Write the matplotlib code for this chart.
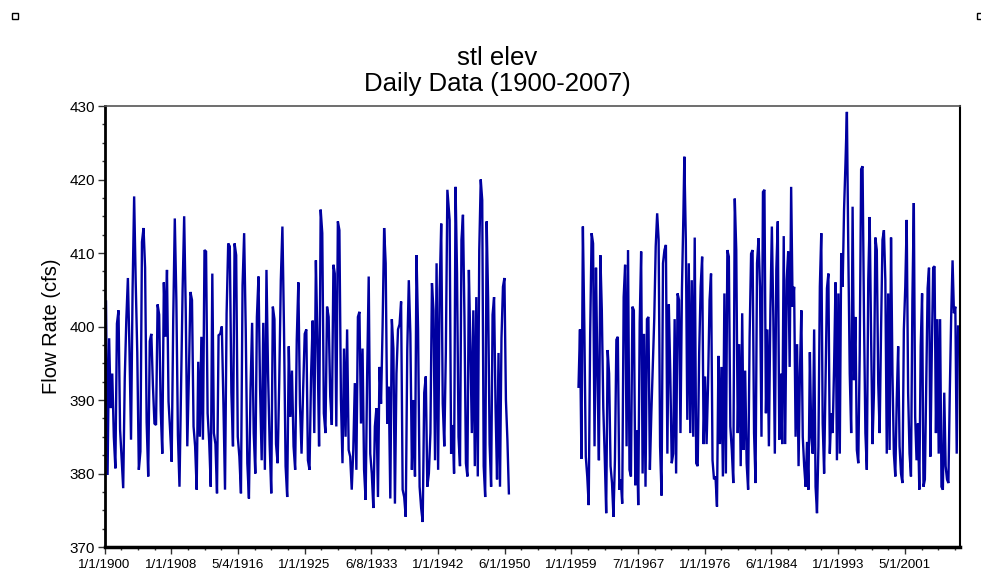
import numpy as np
import matplotlib
matplotlib.use('Agg')
import matplotlib.pyplot as plt
from matplotlib.patches import Rectangle

plt.rcParams['font.family'] = ['Liberation Sans', 'DejaVu Sans']

# readings, one list per stretch of years
# (values in each list are spread evenly between the stretch's start and end year)
stage_1900 = [403.4, 379.8, 398.4, 388.9, 393.6, 385.0, 380.7, 400.4, 402.2, 386.0, 382.0, 378.0,
              393.0, 401.0, 406.6, 397.0, 384.6, 405.0, 417.7, 406.0, 396.4, 380.5, 383.0, 411.5,
              413.4, 408.0, 387.0, 379.6, 398.0, 399.0, 392.0, 386.8, 386.6, 403.0, 401.6, 388.6,
              382.7, 406.0, 398.6, 407.7, 389.8, 385.9, 381.6, 401.0, 414.7, 403.6, 385.2, 378.2,
              391.4, 405.0, 415.0, 402.2, 383.7, 393.2, 404.7, 403.6, 386.4, 383.7, 377.8, 395.2,
              385.0, 398.6, 384.6, 410.4, 410.2, 388.2, 384.3, 378.2, 407.2, 385.5, 384.0, 377.3,
              398.8]
stage_1914 = [399.0, 400.0, 389.5, 377.8, 401.8, 411.3, 410.9, 391.0, 383.7, 411.3, 409.7, 385.0,
              382.3, 377.3, 405.6, 412.7, 399.6, 381.4, 376.6, 391.4, 400.5, 385.5, 380.0, 401.3,
              406.8, 391.4, 381.8, 400.5, 380.5, 407.7, 393.6, 384.0, 377.3, 402.7, 401.0, 384.0,
              381.4, 392.3, 406.3, 413.6, 399.6, 381.0, 376.8, 397.3, 387.7, 394.0, 383.7, 380.5,
              398.2, 406.0, 389.5, 382.7, 391.4, 399.0, 399.6, 381.8, 380.5, 393.6, 400.8, 385.5,
              409.0, 397.8, 383.7, 415.9, 412.7, 388.2, 385.5, 402.7, 401.3, 390.5, 386.6, 408.4]
stage_1929 = [407.2, 386.4, 414.3, 413.1, 390.0, 381.4, 397.0, 385.0, 399.6, 383.2, 382.3, 377.8,
              383.2, 392.3, 380.5, 401.3, 402.0, 386.8, 397.0, 380.5, 376.4, 393.6, 406.8, 382.7,
              380.0, 375.3, 386.4, 388.9, 376.8, 394.5, 389.5, 400.0, 413.4, 408.6, 386.8, 391.8,
              376.6, 401.0, 397.0, 375.9, 393.6, 399.6, 400.3, 403.4, 377.8, 376.8, 374.1, 396.8,
              406.3, 399.0, 380.5, 390.0, 379.6, 409.7, 399.6, 378.2, 375.3, 373.4, 391.0, 393.2,
              378.2, 380.0, 385.5, 405.9, 402.2, 381.8, 408.6, 380.5, 405.0, 414.0, 389.5, 383.7,
              396.4, 418.6, 415.9]
stage_1943 = [414.5, 382.7, 386.6, 380.0, 419.0, 407.2, 385.0, 381.0, 411.8, 415.2, 401.3, 381.4,
              379.6, 407.7, 397.3, 385.5, 402.2, 381.0, 404.0, 379.6, 410.4, 420.0, 417.2, 381.0,
              376.8, 414.3, 403.6, 384.0, 378.2, 401.6, 404.0, 389.0, 379.2, 396.4, 378.2, 398.4,
              405.4, 406.6, 390.0, 384.6, 377.3]
stage_1959 = [391.8, 399.6, 382.0, 413.6, 400.0, 382.3, 379.6, 375.7, 399.0, 412.7, 411.3, 383.7,
              408.0, 393.6, 381.8, 409.7, 402.2, 389.0, 382.3, 374.6, 396.8, 393.6, 381.0, 378.7,
              374.1, 381.8, 398.2, 398.6, 377.8, 379.2, 375.9, 404.0, 408.4, 383.7, 410.4, 380.5,
              379.6, 402.7, 402.2, 378.4, 385.9, 375.7, 400.5, 410.2, 380.0, 399.0, 378.2, 401.0,
              401.3, 380.5, 388.2, 394.5, 401.1, 410.9, 415.4, 411.8, 383.7, 377.0, 408.6, 410.4,
              411.1, 382.7, 403.0, 393.6, 381.4, 382.7, 401.0, 380.0, 404.5, 403.6, 385.5, 405.0,
              415.2]
stage_1973 = [423.1, 411.8, 387.3, 408.6, 385.5, 406.3, 385.0, 412.1, 381.4, 381.0, 396.4, 405.4,
              409.5, 384.0, 393.2, 384.0, 392.3, 403.6, 407.2, 381.8, 379.2, 379.6, 375.5, 396.0,
              384.0, 394.5, 379.6, 404.5, 380.0, 410.4, 409.5, 386.4, 383.2, 378.7, 417.4, 410.4,
              385.5, 397.6, 381.0, 401.8, 383.2, 394.0, 381.4, 377.8, 398.6, 409.9, 410.4, 385.5,
              378.7, 408.6, 412.0, 405.4, 385.0, 418.3, 418.6, 388.2, 399.6, 383.7, 402.2, 413.6,
              401.0, 382.7, 407.7, 414.3, 384.6, 393.6, 384.0, 412.3, 384.0, 406.3, 410.2, 394.5,
              419.0, 402.7, 405.4, 385.0, 397.6, 381.0]
stage_1987 = [393.6, 402.2, 385.0, 381.0, 378.2, 384.3, 377.8, 396.5, 385.0, 382.7, 399.6, 378.2,
              374.6, 383.7, 405.4, 412.7, 386.8, 380.0, 392.7, 405.2, 407.2, 382.7, 388.2, 385.5,
              394.5, 406.0, 381.8, 404.5, 382.7, 410.0, 405.4, 415.9, 422.2, 429.2, 410.0, 393.6,
              385.5, 416.3, 392.7, 401.3, 383.2, 381.4, 396.4, 421.4, 421.8, 401.3, 385.5, 380.5,
              406.3, 414.9, 398.6, 384.0, 391.0, 412.1, 410.4, 392.3, 385.5, 399.6, 411.8, 413.1,
              406.3, 382.7, 404.5, 383.2, 412.1, 393.6, 382.7, 379.6, 390.0, 397.3, 383.7, 380.0,
              378.7, 399.6, 405.4, 414.5, 391.0, 382.7, 379.6, 403.6, 416.8]
stage_2002 = [387.7, 381.8, 386.8, 377.8, 397.3, 404.5, 378.2, 379.2, 392.3, 405.2, 408.0, 382.3,
              396.4, 408.0, 408.2, 385.5, 401.0, 382.7, 401.0, 378.2, 377.8, 391.0, 381.0, 379.2,
              378.7, 391.0, 401.3, 409.0, 401.8, 402.7, 382.7, 400.0]

chunks = [
    ((1900.19, 1914.40), stage_1900),
    ((1914.61, 1928.90), stage_1914),
    ((1929.07, 1943.48), stage_1929),
    ((1943.57, 1951.05), stage_1943),
    None,  # no record 1951-1959
    ((1959.84, 1973.08), stage_1959),
    ((1973.20, 1987.62), stage_1973),
    ((1987.79, 2002.17), stage_1987),
    ((2002.34, 2007.76), stage_2002),
]

tick_labels = ['1/1/1900', '1/1/1908', '5/4/1916', '1/1/1925', '6/8/1933', '1/1/1942',
               '6/1/1950', '1/1/1959', '7/1/1967', '1/1/1976', '6/1/1984', '1/1/1993',
               '5/1/2001']

# build one series, NaN where the record is missing
t, y = [], []
for c in chunks:
    if c is None:
        t.append(np.nan)
        y.append(np.nan)
        continue
    (t0, t1), vals = c
    t.extend(np.linspace(t0, t1, len(vals)))
    y.extend(vals)

fig = plt.figure(figsize=(9.81, 5.79), dpi=100)
ax = fig.add_axes([104.5 / 981, 1 - 547 / 579, 855.5 / 981, 441 / 579])

ax.plot(t, y, color='#0000a0', lw=1.7, solid_joinstyle='miter')

ax.set_xlim(1900, 2008.0)
ax.set_ylim(370, 430)

step = 8.42
ax.set_xticks([1900 + i * step for i in range(len(tick_labels))])
ax.set_xticklabels(tick_labels, fontsize=9.6)
ax.set_xticks([1900 + i * step / 4 for i in range(52) if 1900 + i * step / 4 <= 2008.0], minor=True)
ax.set_yticks(np.arange(370, 431, 10))
ax.set_yticks(np.arange(370, 430.1, 2.5), minor=True)
ax.tick_params(axis='y', labelsize=11, pad=2)
ax.tick_params(which='major', length=5, width=1, direction='out', color='#333333')
ax.tick_params(which='minor', length=2.5, width=1, direction='out', color='#333333')
ax.tick_params(axis='x', pad=4)

ax.set_ylabel('Flow Rate (cfs)', fontsize=14.5, labelpad=6)

ax.spines['left'].set_linewidth(2)
ax.spines['bottom'].set_linewidth(2.5)
ax.spines['right'].set_linewidth(1.5)
ax.spines['top'].set_linewidth(1.2)
ax.spines['top'].set_color('#555555')

fig.text(497 / 981, 1 - 58 / 579, 'stl elev', ha='center', va='center', fontsize=18.5)
fig.text(497 / 981, 1 - 84 / 579, 'Daily Data (1900-2007)', ha='center', va='center', fontsize=18.5)

# little handle boxes in the corners of the original window
for x0 in (12, 977):
    fig.add_artist(Rectangle((x0 / 981, 1 - 19 / 579), 6 / 981, 6 / 579,
                             transform=fig.transFigure, facecolor='white',
                             edgecolor='black', lw=1))

fig.savefig('out.png', dpi=100)
